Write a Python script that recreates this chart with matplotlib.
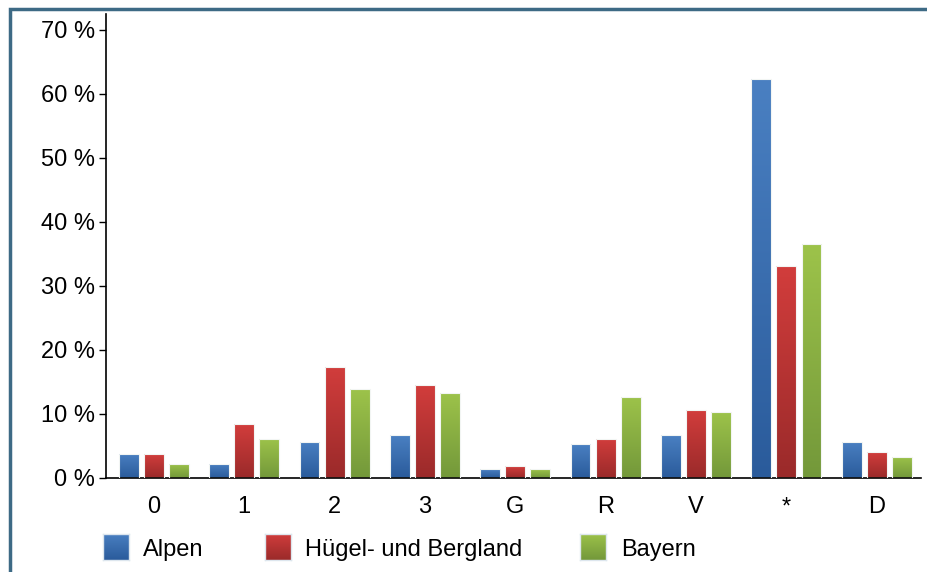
import numpy as np
import matplotlib
matplotlib.use("Agg")
import matplotlib.pyplot as plt
from matplotlib.patches import Rectangle
from matplotlib.colors import LinearSegmentedColormap

plt.rcParams['font.family'] = ['Liberation Sans', 'DejaVu Sans']

categories = ["0", "1", "2", "3", "G", "R", "V", "*", "D"]
series_names = ["Alpen", "Hügel- und Bergland", "Bayern"]
alpen = [3.8, 2.2, 5.7, 6.7, 1.4, 5.3, 6.7, 62.4, 5.7]
huegel = [3.75, 8.4, 17.4, 14.5, 1.8, 6.1, 10.6, 33.2, 4.0]
bayern = [2.2, 6.1, 13.9, 13.3, 1.4, 12.7, 10.3, 36.5, 3.3]
yticks = [0, 10, 20, 30, 40, 50, 60, 70]

# (top colour, bottom colour) for each series
gradients = [("#4a80c2", "#2a5b9b"), ("#d23d3c", "#9a2a2a"), ("#9dc34a", "#73983a")]
grad = np.linspace(0, 1, 256).reshape(-1, 1)
cmaps = [LinearSegmentedColormap.from_list(f"g{i}", [cb, ct]) for i, (ct, cb) in enumerate(gradients)]

W, H = 927, 572
fig = plt.figure(figsize=(W / 100, H / 100), dpi=100)
ax = fig.add_axes([106 / W, 1 - 478 / H, 815 / W, 464 / H])

x = np.arange(len(categories))
width = 0.22
offset = 0.278
for i, vals in enumerate([alpen, huegel, bayern]):
    bars = ax.bar(x + (i - 1) * offset, vals, width, facecolor="none",
                  edgecolor="none", linewidth=0, zorder=3)
    for b in bars:
        x0, y0 = b.get_x(), b.get_y()
        w, h = b.get_width(), b.get_height()
        im = ax.imshow(grad, cmap=cmaps[i], origin="lower", aspect="auto",
                       extent=(x0, x0 + w, y0, y0 + h), zorder=2,
                       interpolation="bilinear")
        im.set_clip_path(b)
        ax.add_patch(Rectangle((x0, y0), w, h, facecolor="none",
                               edgecolor="#f2f5f3", linewidth=0.8, zorder=3))

ax.set_xlim(-0.53, 8.49)
ax.set_ylim(0, 72.5)
ax.set_xticks(x)
ax.set_xticklabels(categories, fontsize=17)
ax.set_yticks(yticks)
ax.set_yticklabels([f"{v} %" for v in yticks], fontsize=17)
ax.tick_params(axis="x", length=0, pad=13)
ax.tick_params(axis="y", length=5, width=1, direction="out", pad=3)
for s in ["top", "right"]:
    ax.spines[s].set_visible(False)
ax.spines["left"].set_linewidth(1.2)
ax.spines["bottom"].set_linewidth(1.2)

# legend: gradient swatches with labels below the plot
swatch_left = [103, 265, 580]
label_left = [143, 305, 621]
for i, name in enumerate(series_names):
    sax = fig.add_axes([swatch_left[i] / W, 1 - 560 / H, 26 / W, 26 / H])
    sax.imshow(grad, cmap=cmaps[i], origin="lower", aspect="auto",
               extent=(0, 1, 0, 1), interpolation="bilinear")
    sax.set_xlim(0, 1)
    sax.set_ylim(0, 1)
    sax.set_xticks([])
    sax.set_yticks([])
    for sp in sax.spines.values():
        sp.set_edgecolor("#dde6ee")
        sp.set_linewidth(1)
    fig.text(label_left[i] / W, 1 - 550 / H, name, fontsize=17,
             ha="left", va="center")

# figure frame on left and top
fig.add_artist(Rectangle((10 / W, -0.01), 1.2, 1 - 9 / H + 0.01, transform=fig.transFigure,
                         fill=False, edgecolor="#3d6a85", linewidth=2.5))

fig.savefig("out.png", dpi=100)
